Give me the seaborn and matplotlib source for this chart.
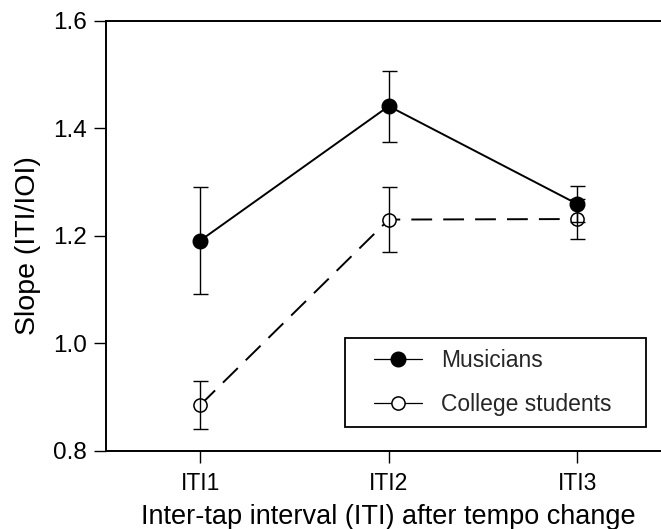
import matplotlib
matplotlib.use("Agg")
import matplotlib.pyplot as plt
from matplotlib.lines import Line2D
from matplotlib.legend_handler import HandlerLine2D
import seaborn as sns
import pandas as pd

# ---- data ----
iti_labels = ["ITI1", "ITI2", "ITI3"]
groups = ["Musicians", "College students"]
musicians_mean = [1.191, 1.441, 1.259]
musicians_err = [0.099, 0.066, 0.034]
students_mean = [0.885, 1.230, 1.231]
students_err = [0.044, 0.060, 0.038]

df = pd.DataFrame({
    "iti": iti_labels * 2,
    "slope": musicians_mean + students_mean,
    "err": musicians_err + students_err,
    "group": [groups[0]] * 3 + [groups[1]] * 3,
})

sns.set_theme(style="white")
plt.rcParams["font.family"] = ["Liberation Sans", "DejaVu Sans"]

fig = plt.figure(figsize=(6.61, 5.29), dpi=100)
ax = fig.add_axes([106 / 661, 1 - 450.7 / 529, 565.5 / 661, 430 / 529])

lw = 1.4
sns.lineplot(data=df, x="iti", y="slope", hue="group", style="group",
             palette={groups[0]: "black", groups[1]: "black"},
             dashes={groups[0]: "", groups[1]: (10.7, 5.7)},
             markers=False, linewidth=lw, ax=ax, legend=False, sort=False)

sub_m = df[df.group == groups[0]]
sub_s = df[df.group == groups[1]]
ax.plot(sub_m.iti, sub_m.slope, linestyle="none", marker="o", markersize=10.5,
        markerfacecolor="black", markeredgecolor="black", zorder=4)
ax.plot(sub_s.iti, sub_s.slope, linestyle="none", marker="o", markersize=9.5,
        markerfacecolor="white", markeredgecolor="black", markeredgewidth=1.1, zorder=4)

for sub in (sub_m, sub_s):
    ax.errorbar(sub.iti, sub.slope, yerr=sub.err, fmt="none", ecolor="black",
                elinewidth=1.0, capsize=5.4, capthick=1.0, zorder=5)

ax.set_xlim(-0.5, 2.5)
ax.set_ylim(0.8, 1.6)
ax.set_yticks([0.8, 1.0, 1.2, 1.4, 1.6])
ax.set_yticklabels(["0.8", "1.0", "1.2", "1.4", "1.6"])

for side in ("left", "bottom", "top"):
    ax.spines[side].set_color("black")
    ax.spines[side].set_linewidth(1.4)
ax.spines["right"].set_visible(False)

ax.tick_params(axis="both", direction="out", length=8.6, width=1.0, color="black",
               labelcolor="black", left=True, bottom=True)
ax.tick_params(axis="y", pad=5, labelsize=17.5)
ax.tick_params(axis="x", pad=7, labelsize=16.5)

ax.set_xlabel("Inter-tap interval (ITI) after tempo change", fontsize=19.5,
              color="black", labelpad=6)
ax.set_ylabel("Slope (ITI/IOI)", fontsize=20.5, color="black")
ax.yaxis.set_label_coords(-0.115, 0.478)


class ShiftHandler(HandlerLine2D):
    def __init__(self, shift, **kw):
        super().__init__(**kw)
        self.shift = shift

    def create_artists(self, legend, orig_handle, xdescent, ydescent, width,
                       height, fontsize, trans):
        return super().create_artists(legend, orig_handle, xdescent - self.shift,
                                      ydescent, width - self.shift, height,
                                      fontsize, trans)


handles = [
    Line2D([0], [0], color="black", lw=0.9, marker="o", markersize=10.5,
           markerfacecolor="black", markeredgecolor="black"),
    Line2D([0], [0], color="black", lw=0.9, marker="o", markersize=9.5,
           markerfacecolor="white", markeredgecolor="black", markeredgewidth=1.1),
]
fs = 16.5
leg = ax.legend(handles, groups, loc="lower left",
                bbox_to_anchor=((345 - 106) / 565.5, (450.7 - 427) / 430,
                                (646 - 345) / 565.5, (427 - 338) / 430),
                mode="expand", frameon=True, fancybox=False,
                edgecolor="black", framealpha=1, handlelength=2.88,
                handletextpad=0.83, labelspacing=0.9, borderpad=0.48,
                borderaxespad=0, numpoints=1,
                handler_map={h: ShiftHandler(13.0) for h in handles},
                prop={"family": ["Liberation Sans"], "size": fs})
leg.get_frame().set_linewidth(1.3)

fig.savefig("out.png", dpi=100, facecolor="white")
